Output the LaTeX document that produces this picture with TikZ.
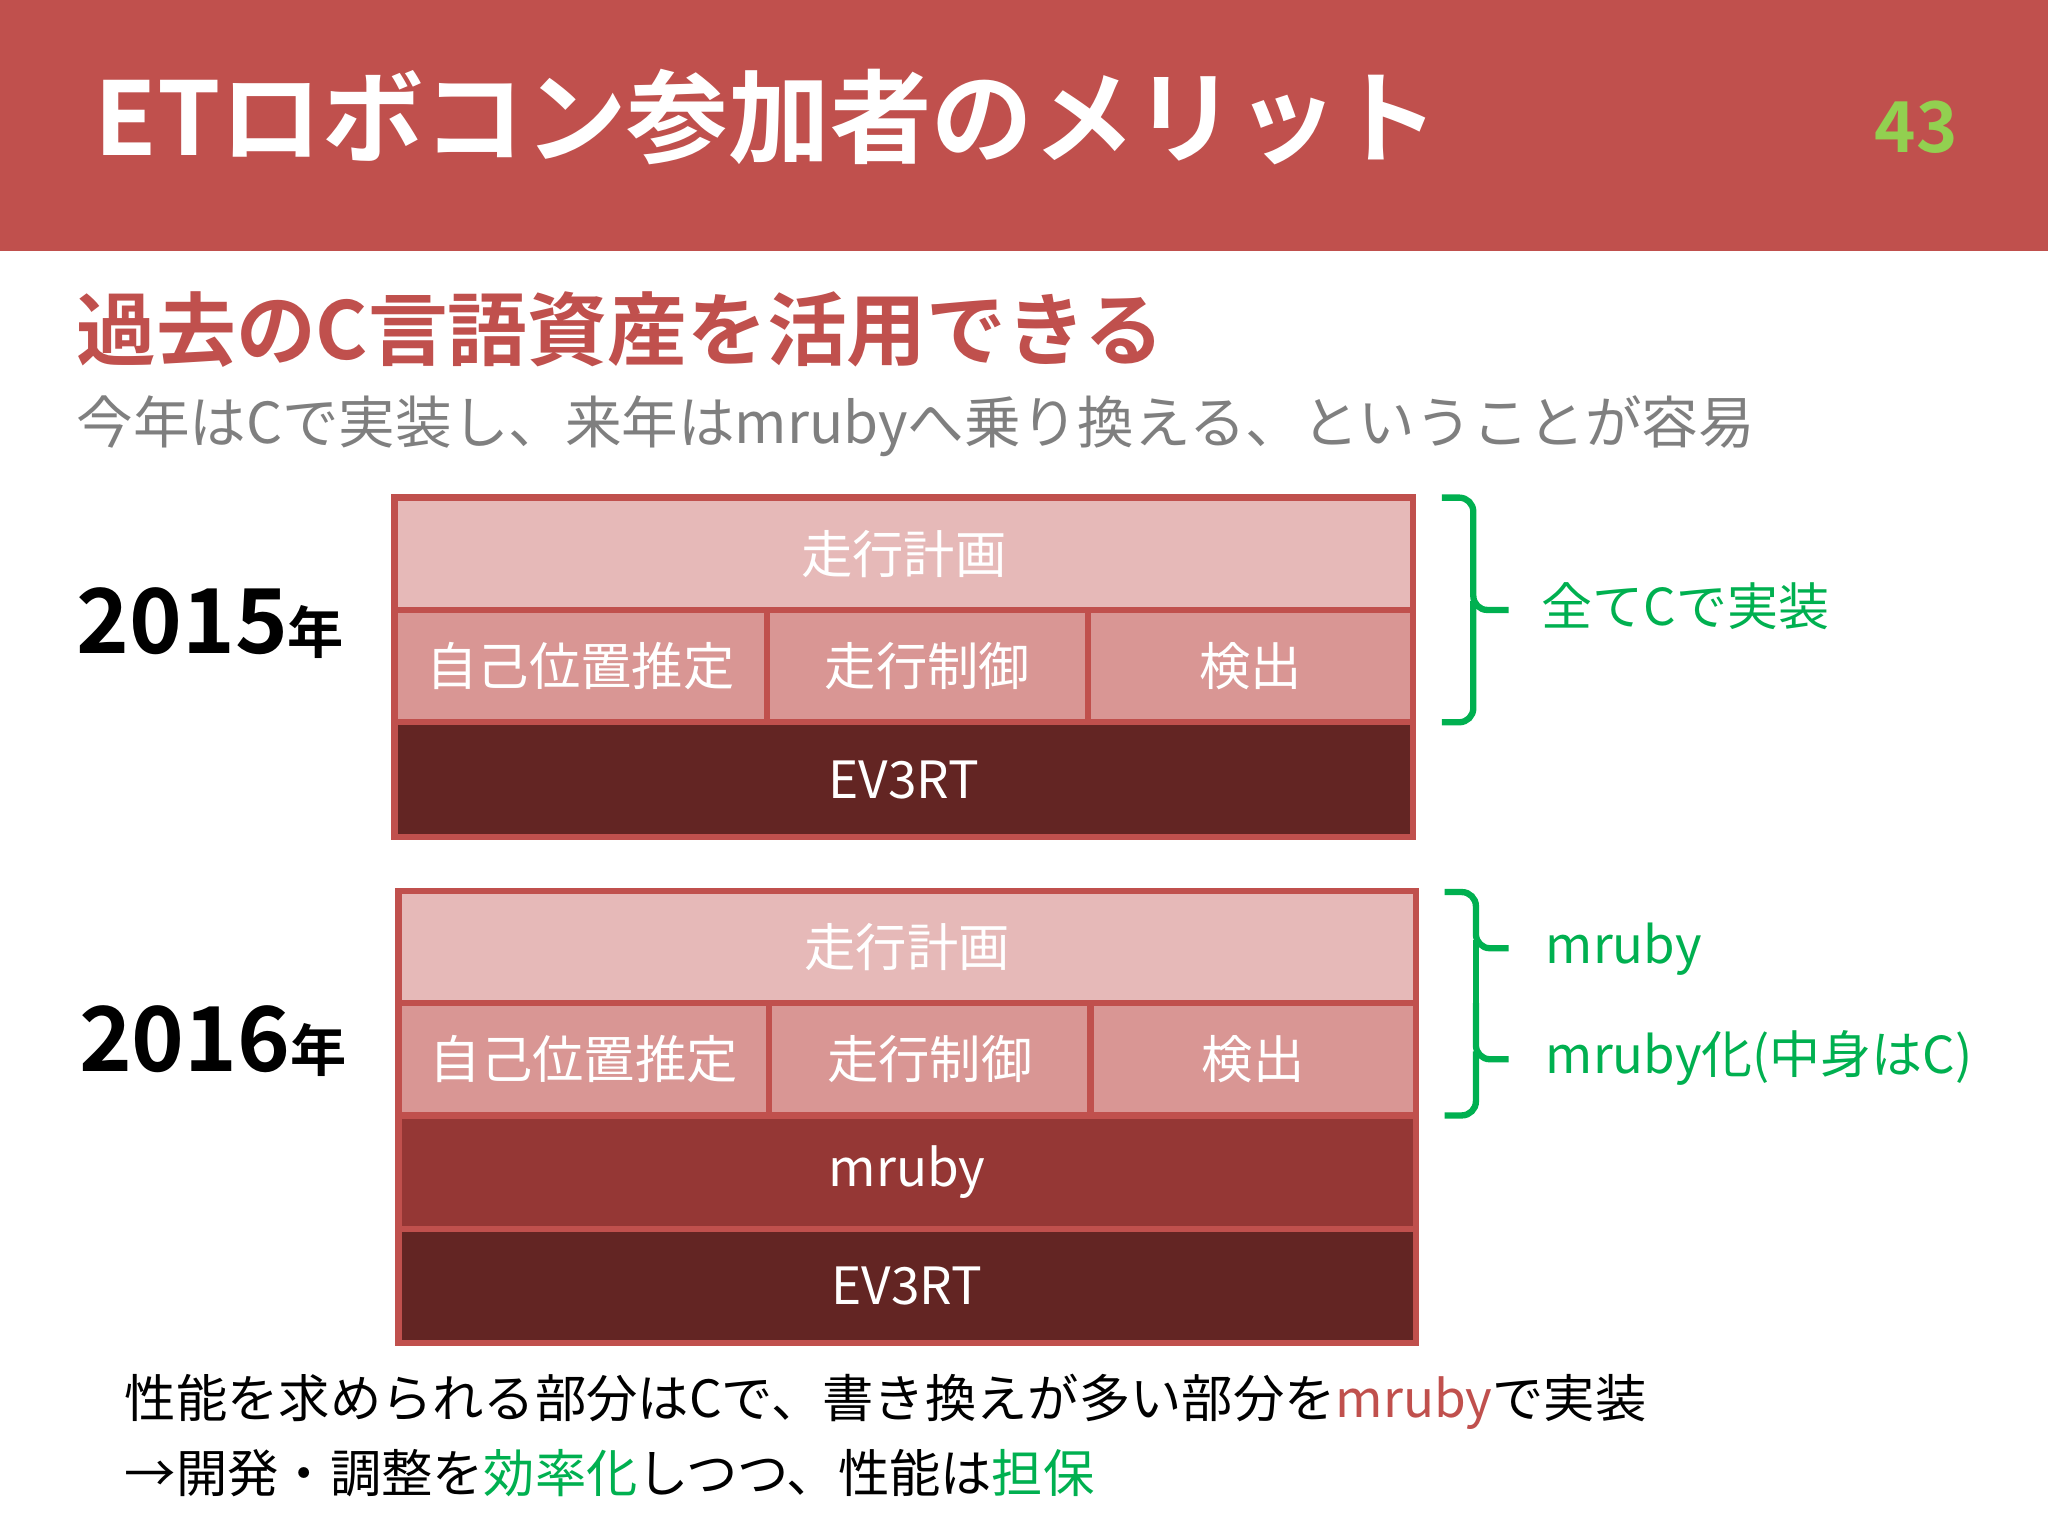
\documentclass[tikz,border=0pt]{standalone}
\usepackage{fontspec}
\setmainfont{Noto Sans CJK JP}
\newfontfamily\jpb{Noto Sans CJK JP Bold}
\definecolor{hdr}{HTML}{C0504D}
\definecolor{lite}{HTML}{E6B9B8}
\definecolor{mid}{HTML}{D99694}
\definecolor{dark}{HTML}{632523}
\definecolor{mrb}{HTML}{953735}
\definecolor{grn}{HTML}{00B050}
\definecolor{lgrn}{HTML}{92D050}
\definecolor{gry}{HTML}{7F7F7F}
\tikzset{
 cell/.style={draw=hdr,line width=1.8pt,text=white,font=\fontsize{14.6}{18}\selectfont,inner sep=0pt},
 brace/.style={draw=grn,line width=1.8pt,rounded corners=4pt},
 lab/.style={anchor=west,inner sep=0pt},
}
\begin{document}
\begin{tikzpicture}[x=0.013061cm,y=-0.013061cm]
\useasboundingbox (0,0) rectangle (1568,1176);
\fill[white] (0,0) rectangle (1568,1176);
\fill[hdr] (0,0) rectangle (1568,192);
\node[lab,text=white,font=\jpb\fontsize{28.9}{34}\selectfont] (title) at (72,90) {ETロボコン参加者のメリット};
\node[lab,text=lgrn,font=\jpb\fontsize{20}{24}\selectfont] (pg) at (1435,97) {43};
\node[lab,text=hdr,font=\jpb\fontsize{22.7}{27}\selectfont] (sub) at (58,252) {過去のC言語資産を活用できる};
\node[lab,text=gry,font=\fontsize{16.1}{20}\selectfont] (desc) at (58,326) {今年はCで実装し、来年はmrubyへ乗り換える、ということが容易};
% stack 1
\fill[hdr] (300,379) rectangle (1084,643);
\node[cell,fill=lite,minimum width=780*0.013061cm,minimum height=86*0.013061cm] (p1) at (692,424) {走行計画};
\node[cell,fill=mid,minimum width=285*0.013061cm,minimum height=86*0.013061cm] (s1) at (444.5,510) {自己位置推定};
\node[cell,fill=mid,minimum width=246*0.013061cm,minimum height=86*0.013061cm] (c1) at (710,510) {走行制御};
\node[cell,fill=mid,minimum width=249*0.013061cm,minimum height=86*0.013061cm] (d1) at (957.5,510) {検出};
\node[cell,fill=dark,minimum width=780*0.013061cm,minimum height=88*0.013061cm] (e1) at (692,597) {EV3RT};
\node[lab,font=\jpb\fontsize{25.5}{30}\selectfont] (y1) at (58,477) {2015\fontsize{16}{20}\selectfont 年};
\draw[brace] (1104,381)--(1128,381)--(1128,467)--(1155,467);
\draw[brace] (1128,460)--(1128,553)--(1104,553);
\node[lab,text=grn,font=\fontsize{14.5}{18}\selectfont] (t1) at (1180,464) {全てCで実装};
% stack 2
\fill[hdr] (303,680) rectangle (1086,1030);
\node[cell,fill=lite,minimum width=779*0.013061cm,minimum height=86*0.013061cm] (p2) at (694.5,725) {走行計画};
\node[cell,fill=mid,minimum width=284*0.013061cm,minimum height=86*0.013061cm] (s2) at (447,811) {自己位置推定};
\node[cell,fill=mid,minimum width=246*0.013061cm,minimum height=86*0.013061cm] (c2) at (712,811) {走行制御};
\node[cell,fill=mid,minimum width=249*0.013061cm,minimum height=86*0.013061cm] (d2) at (959.5,811) {検出};
\node[cell,fill=mrb,minimum width=779*0.013061cm,minimum height=87*0.013061cm] (m2) at (694.5,897.5) {mruby};
\node[cell,fill=dark,minimum width=779*0.013061cm,minimum height=87*0.013061cm] (e2) at (694.5,984.5) {EV3RT};
\node[lab,font=\jpb\fontsize{25.5}{30}\selectfont] (y2) at (60,797) {2016\fontsize{16}{20}\selectfont 年};
\draw[brace] (1106,683)--(1130,683)--(1130,726)--(1155,726);
\draw[brace] (1130,720)--(1130,768);
\draw[brace] (1130,768)--(1130,811)--(1155,811);
\draw[brace] (1130,805)--(1130,854)--(1106,854);
\node[lab,text=grn,font=\fontsize{14.5}{18}\selectfont] (t2) at (1183,727) {mruby};
\node[lab,text=grn,font=\fontsize{14.5}{18}\selectfont] (t3) at (1183,810) {mruby化(中身はC)};
% bottom
\node[lab,font=\fontsize{14.6}{18}\selectfont] (b1) at (95,1073) {性能を求められる部分はCで、書き換えが多い部分を\textcolor{hdr}{mruby}で実装};
\node[lab,font=\fontsize{14.6}{18}\selectfont] (b2) at (95,1128) {→開発・調整を\textcolor{grn}{効率化}しつつ、性能は\textcolor{grn}{担保}};
\end{tikzpicture}
\end{document}
